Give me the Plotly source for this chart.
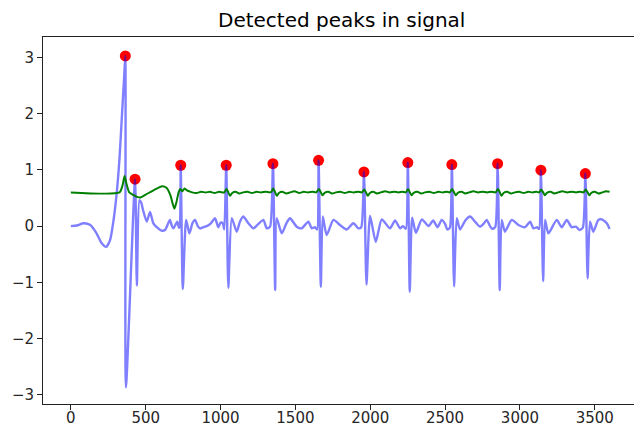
import plotly.graph_objects as go

# ---- signal (key vertices) ----
sig_x = [0, 40, 85, 130, 170, 205, 236, 262, 285, 305, 325, 342, 355, 364,
         368, 429, 441, 458, 470, 480, 507, 529, 551, 584, 605, 629, 662, 675, 685, 711, 722, 728,
         734, 748, 770, 792, 812, 830, 848, 863, 885, 908, 935, 963, 985, 1000, 1015, 1025,
         1038, 1052, 1075, 1108, 1130, 1152, 1186, 1219, 1250, 1286, 1309, 1331,
         1350, 1365, 1375, 1409, 1440, 1464, 1509, 1542, 1587, 1609, 1630, 1645,
         1655, 1670, 1683, 1709, 1754, 1798, 1843, 1887, 1921, 1940,
         1958, 1975, 1999, 2037, 2077, 2132, 2166, 2199, 2219, 2238,
         2251, 2264, 2280, 2305, 2345, 2390, 2420, 2450, 2477, 2500, 2515, 2532,
         2545, 2560, 2578, 2600, 2635, 2667, 2700, 2733, 2760, 2778, 2800, 2815, 2835,
         2851, 2865, 2878, 2900, 2945, 2990, 3034, 3068, 3090, 3115, 3128,
         3140, 3155, 3168, 3190, 3246, 3279, 3313, 3346, 3375, 3397, 3420,
         3437, 3452, 3468, 3490, 3524, 3546, 3580, 3599]
sig_y = [0.0, 0.01, 0.05, 0.02, -0.12, -0.30, -0.37, -0.25, 0.10, 0.55, 1.20, 2.00, 2.60, 3.03,
         -2.87, 0.835, -1.06, 0.46, 0.42, 0.31, 0.08, 0.25, 0.05, -0.04, -0.08, -0.07, 0.11, 0.0, -0.04, 0.08, -0.03, 0.0,
         1.083, -1.12, 0.11, -0.13, 0.05, 0.11, 0.0, -0.04, -0.02, 0.0, 0.05, 0.14, -0.02, 0.06, 0.05, -0.06,
         1.083, -1.10, 0.14, -0.10, 0.08, 0.17, 0.05, -0.04, 0.03, 0.11, -0.04, -0.01,
         1.11, -1.14, 0.14, -0.13, 0.05, 0.14, -0.01, -0.04, 0.08, -0.04, -0.02, -0.06,
         1.17, -1.08, 0.17, -0.16, 0.11, 0.02, -0.06, 0.05, -0.04, -0.02,
         0.965, -1.04, 0.18, -0.28, 0.12, -0.04, 0.10, -0.04, 0.0, -0.05,
         1.13, -1.17, 0.15, -0.12, 0.12, 0.0, 0.10, -0.02, 0.11, 0.04, -0.06, -0.03,
         1.095, -1.07, 0.14, -0.06, 0.10, 0.17, 0.08, -0.01, 0.05, 0.11, 0.0, -0.05, -0.02,
         1.11, -1.14, 0.11, -0.10, 0.11, 0.02, -0.02, 0.08, -0.04, -0.02, -0.05,
         0.995, -0.98, 0.11, -0.13, 0.11, -0.02, 0.11, -0.02, -0.01, -0.07, -0.03,
         0.935, -0.93, 0.08, -0.10, 0.11, 0.12, 0.05, -0.05]

# ---- threshold ----
thr_x = [0, 325, 345, 359, 372, 390, 420, 442, 465, 500, 560, 610, 640, 665, 680, 692, 705, 720, 731, 745, 760, 778,
         790, 810, 840, 870, 900, 930, 960, 990, 1015,
         1025, 1040, 1052, 1063, 1078, 1100, 1125, 1150, 1180, 1210, 1240, 1270, 1300, 1330,
         1340, 1352, 1365, 1376, 1390, 1412, 1440, 1465, 1495, 1525, 1555, 1585, 1615, 1640,
         1657, 1670, 1681, 1695, 1720, 1745, 1770, 1800, 1830, 1860, 1890, 1920, 1945,
         1960, 1972, 1983, 1998, 2020, 2045, 2070, 2100, 2130, 2160, 2190, 2215, 2238,
         2253, 2265, 2276, 2290, 2315, 2340, 2365, 2395, 2425, 2455, 2485, 2510, 2532,
         2547, 2560, 2571, 2585, 2610, 2635, 2660, 2690, 2720, 2750, 2780, 2810, 2838,
         2853, 2866, 2877, 2891, 2915, 2940, 2965, 2995, 3025, 3055, 3085, 3110, 3128,
         3142, 3155, 3166, 3180, 3205, 3230, 3255, 3285, 3315, 3345, 3375, 3400, 3425,
         3439, 3452, 3463, 3477, 3500, 3525, 3550, 3575, 3599]
thr_y = [0.60, 0.60, 0.72, 0.89, 0.75, 0.60, 0.55, 0.52, 0.51, 0.56, 0.65, 0.71, 0.68, 0.55, 0.40, 0.31, 0.42, 0.60, 0.66, 0.62, 0.67, 0.63,
         0.62, 0.60, 0.59, 0.61, 0.60, 0.61, 0.59, 0.61, 0.60,
         0.60, 0.66, 0.60, 0.54, 0.59, 0.61, 0.58, 0.60, 0.61, 0.59, 0.61, 0.60, 0.61, 0.60,
         0.61, 0.67, 0.60, 0.54, 0.59, 0.61, 0.58, 0.60, 0.62, 0.59, 0.61, 0.60, 0.61, 0.60,
         0.66, 0.60, 0.55, 0.59, 0.61, 0.58, 0.60, 0.61, 0.59, 0.61, 0.60, 0.61, 0.60,
         0.65, 0.60, 0.54, 0.59, 0.61, 0.58, 0.60, 0.62, 0.60, 0.61, 0.60, 0.61, 0.60,
         0.66, 0.60, 0.55, 0.59, 0.61, 0.58, 0.60, 0.61, 0.59, 0.61, 0.60, 0.61, 0.60,
         0.66, 0.60, 0.55, 0.59, 0.61, 0.58, 0.60, 0.62, 0.60, 0.61, 0.60, 0.61, 0.60,
         0.66, 0.60, 0.54, 0.59, 0.61, 0.58, 0.60, 0.61, 0.59, 0.61, 0.60, 0.61, 0.60,
         0.65, 0.60, 0.55, 0.59, 0.61, 0.58, 0.60, 0.62, 0.60, 0.61, 0.60, 0.61, 0.60,
         0.65, 0.60, 0.55, 0.59, 0.61, 0.58, 0.60, 0.62, 0.61]

# ---- detected peaks ----
peak_x = [364, 429, 734, 1038, 1350, 1655, 1958, 2251, 2545, 2851, 3140, 3437]
peak_y = [3.03, 0.835, 1.083, 1.083, 1.11, 1.17, 0.965, 1.13, 1.095, 1.11, 0.995, 0.935]

x_ticks = [0, 500, 1000, 1500, 2000, 2500, 3000, 3500]
y_ticks = [-3, -2, -1, 0, 1, 2, 3]

fig = go.Figure()
fig.add_trace(go.Scatter(x=peak_x, y=peak_y, mode="markers",
                         marker=dict(color="red", size=11, line=dict(width=0))))
fig.add_trace(go.Scatter(x=sig_x, y=sig_y, mode="lines",
                         line=dict(color="rgba(0,0,255,0.5)", width=2.4, shape="spline", smoothing=0.6)))
fig.add_trace(go.Scatter(x=thr_x, y=thr_y, mode="lines",
                         line=dict(color="#008000", width=2, shape="spline", smoothing=0.6)))

font = "DejaVu Sans, Verdana, sans-serif"
fig.update_layout(
    width=634, height=428,
    margin=dict(l=43, r=0, t=37, b=24),
    paper_bgcolor="white", plot_bgcolor="white",
    showlegend=False,
    title=dict(text="Detected peaks in signal", x=0.539, xanchor="center", y=0.953, yanchor="middle",
               font=dict(family=font, size=20, color="black")),
    font=dict(family=font, size=15, color="#262626"),
)
fig.update_xaxes(range=[-186, 3762], tickvals=x_ticks, ticks="outside", ticklen=5, tickwidth=1,
                 tickcolor="#222", showline=True, linecolor="#222", linewidth=1, mirror=True,
                 showgrid=False, zeroline=False, automargin=False, ticklabelstandoff=-5)
fig.update_yaxes(range=[-3.167, 3.366], tickvals=y_ticks, ticks="outside", ticklen=5, tickwidth=1,
                 tickcolor="#222", showline=True, linecolor="#222", linewidth=1,
                 showgrid=False, zeroline=False, automargin=False)

fig.write_html("out.html", config={"displayModeBar": False},
               post_script="document.body.style.margin='0';document.body.style.overflow='hidden';")
